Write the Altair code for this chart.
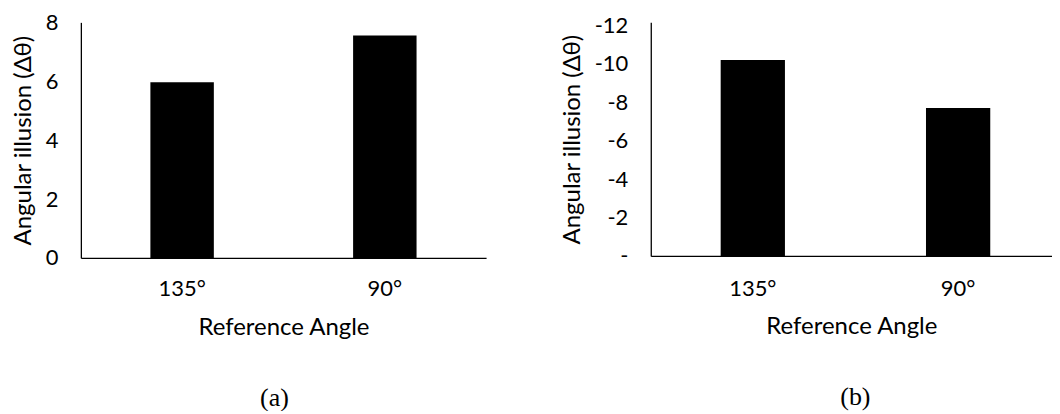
import altair as alt
import pandas as pd

angles = ["135°", "90°"]
illusion_a = [5.97, 7.55]
illusion_b = [-10.19, -7.70]
ticks_a = [0, 2, 4, 6, 8]
ticks_b = [0, -2, -4, -6, -8, -10, -12]

SANS = "Lato"
SERIF = "Liberation Serif"
LFS = 22
TFS = 24

df_a = pd.DataFrame({"angle": angles, "value": illusion_a})
df_b = pd.DataFrame({"angle": angles, "value": illusion_b})


def panel(df, domain, reverse, ticks, width, height, label_expr, caption,
          pad_outer, align, y_title_pad, x_label_pad, x_title_pad, cap_dx):
    return (
        alt.Chart(df)
        .mark_bar(color="black")
        .encode(
            x=alt.X(
                "angle:N",
                sort=angles,
                scale=alt.Scale(paddingInner=0.687, paddingOuter=pad_outer, align=align),
                axis=alt.Axis(
                    title="Reference Angle",
                    labelAngle=0,
                    labelPadding=x_label_pad,
                    minExtent=40,
                    maxExtent=40,
                    titlePadding=x_title_pad,
                ),
            ),
            y=alt.Y(
                "value:Q",
                scale=alt.Scale(domain=domain, nice=False, reverse=reverse),
                axis=alt.Axis(
                    title="Angular illusion (Δθ)",
                    values=ticks,
                    labelExpr=label_expr,
                    labelPadding=23,
                    minExtent=38,
                    maxExtent=38,
                    titlePadding=y_title_pad,
                ),
            ),
        )
        .properties(
            width=width,
            height=height,
            title=alt.TitleParams(
                caption,
                orient="bottom",
                font=SERIF,
                fontSize=26,
                fontWeight="normal",
                color="black",
                offset=45,
                dx=cap_dx,
            ),
        )
    )


left = panel(df_a, [0, 8], False, ticks_a, 406, 236, "datum.label", "(a)",
             0.343, 0.5, 7, 21, 18, -9)
right = panel(df_b, [-12.15, 0], True, ticks_b, 402, 234,
              "datum.value == 0 ? '-' : '-' + format(abs(datum.value), 'd')", "(b)",
              0.3206, 0.531, 28, 23, 19, 4)

chart = (
    alt.hconcat(left, right, spacing=75)
    .properties(padding={"left": 4, "top": 3, "right": 0, "bottom": 0})
    .configure_view(stroke=None)
    .configure_axis(
        domainColor="black",
        domainWidth=1.3,
        ticks=False,
        grid=False,
        labelFont=SANS,
        labelFontSize=LFS,
        labelColor="black",
        titleFont=SANS,
        titleFontSize=TFS,
        titleFontWeight="normal",
        titleColor="black",
    )
)

chart.save("out.html", embed_options={"renderer": "svg", "actions": False})
